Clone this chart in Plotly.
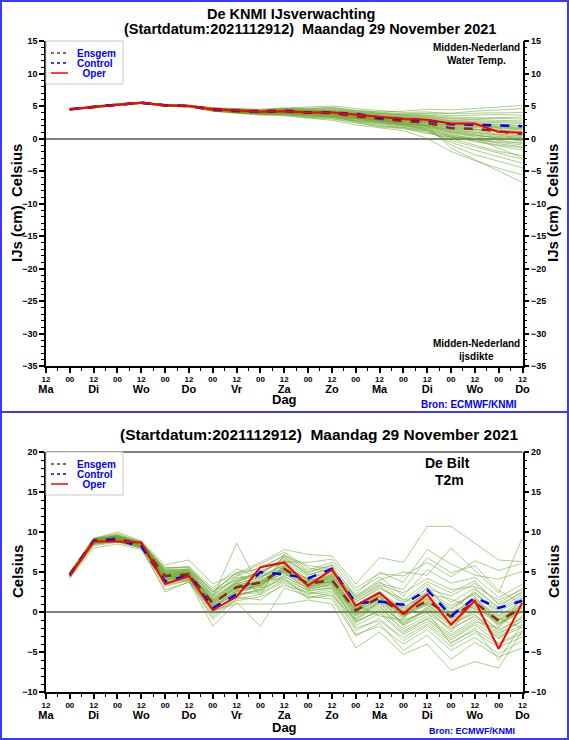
import plotly.graph_objects as go

W, H = 569, 740

# forecast hours after start (start = Monday 12 UTC)
hours = [12, 24, 36, 48, 60, 72, 84, 96, 108, 120, 132, 144, 156, 168, 180, 192, 204, 216, 228, 240]

tick_hours = list(range(0, 241, 12))
tick_days = ["Ma", "Di", "Wo", "Do", "Vr", "Za", "Zo", "Ma", "Di", "Wo", "Do"]

# ---- top panel: Midden-Nederland water temperature ----
wt_oper = [4.5, 4.9, 5.2, 5.5, 5.1, 5.0, 4.5, 4.3, 4.1, 4.2, 4.0, 4.0, 3.7, 3.3, 3.0, 2.9, 2.3, 2.3, 1.0, 0.9]
wt_control = [4.5, 4.9, 5.2, 5.5, 5.1, 5.0, 4.5, 4.3, 4.1, 4.2, 4.0, 4.0, 3.8, 3.2, 3.0, 2.8, 2.2, 2.1, 1.9, 1.9]
wt_ensgem = [4.5, 4.9, 5.2, 5.5, 5.1, 5.0, 4.4, 4.2, 4.2, 4.3, 4.0, 3.9, 3.4, 3.0, 2.7, 2.4, 1.6, 1.5, 1.1, 0.7]

wt_members = [
    [4.5, 4.9, 5.3, 5.5, 5.1, 5.0, 4.6, 4.5, 4.4, 4.6, 4.6, 4.8, 4.3, 4.1, 4.2, 4.5, 4.4, 4.6, 4.8, 5.1],
    [4.4, 4.8, 5.2, 5.4, 5.0, 4.9, 4.3, 4.0, 3.8, 3.7, 3.4, 3.3, 2.7, 2.2, 1.8, 1.2, 0.2, -0.5, -1.2, -1.8],
    [4.5, 4.9, 5.2, 5.5, 5.2, 5.1, 4.5, 4.3, 4.2, 4.3, 4.1, 4.0, 3.6, 3.2, 2.9, 2.6, 1.9, 1.7, 1.3, 1.0],
    [4.5, 4.9, 5.1, 5.4, 5.0, 4.9, 4.4, 4.1, 3.9, 4.0, 3.8, 3.6, 3.0, 2.6, 2.2, 1.5, -1.0, -2.5, -3.5, -4.5],
    [4.5, 5.0, 5.3, 5.6, 5.2, 5.1, 4.7, 4.6, 4.5, 4.7, 4.8, 5.0, 4.6, 4.3, 4.0, 4.1, 3.8, 3.9, 4.0, 4.0],
    [4.4, 4.8, 5.2, 5.4, 5.0, 4.9, 4.3, 4.1, 3.9, 4.0, 3.7, 3.5, 3.1, 2.8, 2.4, 2.0, 1.0, 0.6, 0.1, -0.4],
    [4.5, 4.9, 5.2, 5.5, 5.1, 5.0, 4.5, 4.2, 4.1, 4.2, 4.0, 3.9, 3.5, 3.0, 2.7, 2.3, 1.5, 1.2, 0.7, 0.5],
    [4.5, 4.9, 5.2, 5.5, 5.1, 5.0, 4.4, 4.2, 4.0, 4.1, 3.9, 3.8, 3.3, 2.9, 2.5, 2.0, -1.5, -3.2, -5.0, -6.8],
    [4.5, 4.9, 5.3, 5.5, 5.2, 5.0, 4.6, 4.4, 4.3, 4.5, 4.3, 4.3, 3.9, 3.6, 3.4, 3.3, 2.8, 2.7, 2.6, 2.5],
    [4.4, 4.8, 5.1, 5.4, 5.0, 4.9, 4.3, 4.0, 3.7, 3.6, 3.2, 3.0, 2.4, 1.8, 1.5, 0.9, 0.0, -1.0, -2.0, -2.6],
    [4.5, 4.9, 5.2, 5.5, 5.1, 5.0, 4.5, 4.3, 4.1, 4.3, 4.2, 4.1, 3.7, 3.4, 3.1, 2.9, 2.4, 2.2, 1.8, 1.6],
    [4.5, 4.9, 5.2, 5.5, 5.1, 5.0, 4.4, 4.2, 4.0, 4.0, 3.8, 3.7, 3.2, 2.7, 2.3, 1.8, 0.8, 0.3, -0.3, -0.8],
    [4.5, 5.0, 5.3, 5.6, 5.2, 5.1, 4.6, 4.5, 4.3, 4.4, 4.4, 4.5, 4.1, 3.8, 3.6, 3.6, 3.3, 3.2, 3.1, 3.0],
    [4.4, 4.8, 5.1, 5.4, 5.0, 4.9, 4.2, 3.9, 3.6, 3.5, 3.1, 2.8, 2.1, 1.6, 1.2, 0.0, -2.0, -3.4, -4.6, -5.6],
    [4.5, 4.9, 5.2, 5.5, 5.1, 5.0, 4.5, 4.3, 4.2, 4.2, 4.0, 4.0, 3.6, 3.1, 2.8, 2.5, 1.8, 1.5, 1.0, 0.8],
    [4.5, 4.9, 5.2, 5.5, 5.1, 5.0, 4.5, 4.2, 4.0, 4.1, 3.9, 3.8, 3.4, 3.0, 2.6, 2.2, 1.3, 0.9, 0.4, 0.1],
    [4.5, 4.9, 5.3, 5.6, 5.2, 5.1, 4.7, 4.5, 4.4, 4.6, 4.5, 4.6, 4.2, 3.9, 3.7, 3.8, 3.5, 3.6, 3.7, 3.6],
    [4.4, 4.8, 5.2, 5.4, 5.0, 4.9, 4.3, 4.0, 3.8, 3.8, 3.5, 3.4, 2.8, 2.4, 2.0, 1.6, 0.5, 0.0, -0.8, -1.3],
    [4.5, 4.9, 5.2, 5.5, 5.1, 5.0, 4.5, 4.3, 4.1, 4.2, 4.1, 4.1, 3.8, 3.5, 3.2, 3.0, 2.5, 2.3, 2.0, 1.9],
    [4.5, 4.9, 5.2, 5.5, 5.1, 5.0, 4.4, 4.1, 3.9, 3.9, 3.7, 3.6, 3.1, 2.6, 2.2, 1.7, 0.6, 0.0, -1.5, -3.0],
    [4.5, 4.9, 5.2, 5.5, 5.2, 5.0, 4.6, 4.4, 4.2, 4.4, 4.2, 4.2, 3.8, 3.4, 3.2, 3.1, 2.6, 2.4, 2.2, 2.0],
    [4.4, 4.8, 5.1, 5.4, 5.0, 4.9, 4.3, 4.1, 3.9, 3.9, 3.6, 3.4, 2.9, 2.5, 2.1, 1.4, 0.4, -0.2, -0.6, -1.0],
    [4.5, 4.9, 5.2, 5.5, 5.1, 5.0, 4.5, 4.3, 4.1, 4.2, 4.0, 3.9, 3.5, 3.1, 2.8, 2.6, 2.0, 1.8, 1.5, 1.3],
    [4.5, 4.9, 5.2, 5.5, 5.1, 5.0, 4.4, 4.2, 4.1, 4.1, 3.9, 3.8, 3.4, 2.9, 2.6, 2.1, 1.2, 0.7, 0.3, 0.0],
    [4.5, 5.0, 5.3, 5.6, 5.2, 5.1, 4.6, 4.4, 4.3, 4.5, 4.3, 4.4, 4.0, 3.7, 3.5, 3.4, 3.0, 2.9, 2.8, 2.7],
    [4.4, 4.8, 5.2, 5.4, 5.0, 4.9, 4.3, 4.0, 3.8, 3.8, 3.5, 3.3, 2.6, 2.0, 1.7, 1.1, -0.3, -1.3, -2.3, -3.2],
    [4.5, 4.9, 5.2, 5.5, 5.1, 5.0, 4.5, 4.3, 4.1, 4.2, 4.0, 4.0, 3.6, 3.2, 2.9, 2.7, 2.1, 1.9, 1.6, 1.4],
    [4.5, 4.9, 5.2, 5.5, 5.1, 5.0, 4.5, 4.2, 4.0, 4.1, 3.9, 3.7, 3.3, 2.8, 2.4, 1.9, 1.1, 0.5, 0.0, -0.3],
    [4.5, 4.9, 5.3, 5.5, 5.2, 5.1, 4.6, 4.4, 4.3, 4.4, 4.3, 4.3, 4.0, 3.8, 3.6, 3.5, 3.1, 3.0, 3.2, 3.3],
    [4.4, 4.8, 5.1, 5.4, 5.0, 4.9, 4.2, 3.9, 3.7, 3.7, 3.3, 3.1, 2.5, 1.9, 1.6, 0.8, 0.2, 0.0, -0.5, -0.6],
    [4.5, 4.9, 5.2, 5.5, 5.1, 5.0, 4.5, 4.3, 4.1, 4.3, 4.1, 4.1, 3.7, 3.3, 3.0, 2.8, 2.3, 2.0, 1.7, 1.5],
    [4.5, 4.9, 5.2, 5.5, 5.1, 5.0, 4.4, 4.2, 4.0, 4.0, 3.8, 3.6, 3.2, 2.7, 2.3, 1.9, 0.9, 0.4, 0.2, 0.3],
    [4.5, 4.9, 5.2, 5.5, 5.1, 5.0, 4.5, 4.3, 4.2, 4.3, 4.1, 4.1, 3.7, 3.3, 3.1, 2.9, 2.2, 2.1, 1.9, 1.7],
    [4.5, 5.0, 5.3, 5.6, 5.2, 5.1, 4.7, 4.6, 4.4, 4.6, 4.6, 4.7, 4.3, 4.0, 3.8, 3.9, 3.9, 4.2, 4.4, 4.6],
    [4.4, 4.8, 5.1, 5.4, 5.0, 4.9, 4.3, 4.0, 3.8, 3.9, 3.6, 3.5, 3.0, 2.5, 2.0, 1.3, -0.6, -1.8, -2.8, -3.8],
    [4.5, 4.9, 5.2, 5.5, 5.1, 5.0, 4.5, 4.2, 4.1, 4.1, 3.9, 3.9, 3.5, 3.0, 2.7, 2.4, 1.6, 1.3, 1.1, 0.9],
    [4.5, 4.9, 5.2, 5.5, 5.1, 5.0, 4.4, 4.1, 4.0, 4.0, 3.8, 3.7, 3.2, 2.8, 2.5, 2.0, 1.4, 1.0, 0.6, 0.4],
    [4.5, 4.9, 5.2, 5.5, 5.2, 5.0, 4.6, 4.3, 4.2, 4.3, 4.2, 4.2, 3.9, 3.5, 3.3, 3.2, 2.7, 2.6, 2.4, 2.3],
    [4.4, 4.8, 5.2, 5.4, 5.0, 4.9, 4.3, 4.1, 3.8, 3.8, 3.4, 3.2, 2.7, 2.3, 1.9, 1.3, 0.3, -0.4, -1.0, -1.4],
    [4.5, 4.9, 5.2, 5.5, 5.1, 5.0, 4.5, 4.3, 4.1, 4.2, 4.0, 4.0, 3.6, 3.1, 2.8, 2.5, 1.7, 1.4, 1.2, 1.1],
]

# ---- bottom panel: De Bilt T2m ----
t2m_oper = [4.6, 8.8, 8.8, 8.7, 3.5, 4.5, 0.25, 1.9, 5.6, 6.2, 3.3, 5.3, 0.8, 2.4, -0.2, 2.2, -1.6, 1.4, -4.6, 1.2]
t2m_control = [4.6, 8.9, 9.0, 8.2, 3.8, 4.6, 0.5, 2.2, 5.0, 4.7, 4.2, 5.4, 1.1, 1.3, 0.9, 2.8, -0.5, 1.8, 0.5, 1.4]
t2m_ensgem = [4.7, 8.9, 9.2, 8.4, 4.5, 4.7, 1.1, 3.1, 3.7, 5.4, 3.5, 4.0, 0.2, 1.8, -0.2, 1.4, -0.6, 1.2, -1.1, 0.5]

t2m_members = [
    [4.8, 9.1, 9.4, 8.6, 5.2, 5.1, 2.0, 4.2, 4.6, 6.8, 4.6, 5.6, 1.2, 3.1, 1.0, 3.5, 1.2, 3.0, 0.4, 2.2],
    [4.5, 8.6, 9.0, 8.2, 3.9, 4.3, 0.3, 2.1, 2.8, 4.5, 2.6, 3.1, -1.2, 0.2, -2.1, -0.5, -2.8, -0.9, -3.0, -1.6],
    [4.9, 9.0, 9.6, 8.5, 4.8, 4.9, 1.5, 3.8, 5.2, 6.1, 3.0, 4.8, 0.9, 2.6, -0.8, 2.1, 0.3, 2.5, -0.4, 1.4],
    [4.6, 8.8, 9.1, 8.3, 4.2, 4.6, 0.8, 2.6, 3.2, 5.8, 4.1, 3.6, -0.5, 1.0, -1.5, 0.5, -1.8, 0.1, -2.2, -0.8],
    [4.7, 9.2, 9.8, 8.7, 5.6, 5.5, 2.4, 5.0, 2.1, 7.3, 5.2, 6.2, 2.6, 4.4, 2.0, 5.3, 3.6, 4.3, 1.8, 3.5],
    [4.4, 8.3, 8.7, 8.0, 3.2, 4.0, -0.6, 1.7, 3.9, 4.2, 1.8, 2.4, -2.3, -0.8, -3.6, -1.7, -4.3, -2.6, -4.4, -3.1],
    [4.8, 8.9, 9.3, 8.4, 4.6, 4.8, 1.2, 3.3, 4.1, 5.2, 3.7, 4.3, 0.5, 2.2, 0.4, 1.8, -0.1, 1.5, -0.7, 0.9],
    [4.6, 9.0, 9.2, 8.5, 4.4, 4.5, 1.0, 2.9, 3.4, 5.5, 3.3, 3.8, 0.0, 1.5, -0.5, 1.0, -1.1, 0.8, -1.5, 0.2],
    [4.9, 9.1, 9.5, 8.8, 5.0, 5.2, 1.8, 8.6, 3.0, 6.5, 4.4, 5.1, 1.8, 3.6, 2.8, 6.8, 4.9, 5.8, 2.7, 1.0],
    [4.3, 8.5, 8.8, 8.1, 2.5, 3.8, -1.8, 1.2, -1.8, 3.0, 2.0, 1.6, -3.0, -1.4, -4.8, -2.9, -5.9, -3.8, -5.6, -4.5],
    [4.7, 8.7, 9.0, 8.3, 4.1, 4.4, 0.6, 2.4, 3.6, 4.8, 2.9, 3.3, -0.9, 0.6, -1.2, 0.2, -2.2, -0.4, -2.6, -1.2],
    [4.8, 9.0, 9.4, 8.6, 4.9, 5.0, 1.4, 3.5, 4.4, 5.9, 3.9, 4.6, 0.7, 2.4, 0.1, 2.6, 0.8, 2.2, 0.0, 1.7],
    [5.0, 9.2, 10.0, 8.9, 5.9, 6.5, 3.5, 4.8, 6.2, 7.8, 7.2, 7.0, 3.5, 6.8, 6.2, 10.7, 10.7, 8.6, 6.5, 6.3],
    [4.2, 8.0, 8.5, 7.8, 2.8, 3.7, 0.2, 1.0, 1.0, 1.0, 1.5, 1.0, -4.5, -2.5, -5.3, -4.0, -7.3, -6.2, -7.0, -2.3],
    [4.6, 8.9, 9.1, 8.4, 4.3, 4.7, 1.1, 3.0, 3.8, 5.3, 3.4, 4.1, 0.3, 1.9, -0.3, 1.3, -0.5, 1.1, -1.0, 0.6],
    [4.7, 9.1, 9.3, 8.2, 4.7, 4.9, 1.6, 3.6, 2.7, 6.0, 3.1, 3.9, -0.3, 1.2, -0.9, 3.2, -0.2, 2.8, 0.6, 2.6],
    [4.5, 8.8, 9.0, 8.5, 4.0, 4.2, 0.5, 2.7, 4.8, 5.0, 3.8, 4.5, 1.3, 2.9, 1.6, 0.8, -1.4, -0.2, -3.4, -0.4],
    [4.8, 8.7, 9.2, 8.6, 5.3, 5.3, 2.2, 4.5, 5.6, 7.0, 5.8, 5.4, 2.2, 5.0, 3.7, 7.8, 6.0, 4.6, 4.1, 5.1],
    [4.6, 9.0, 9.4, 8.3, 3.6, 4.4, 0.0, 2.2, 2.4, 4.0, 2.3, 2.9, -1.7, -0.2, -2.8, -1.2, -3.5, -1.6, -3.9, -2.4],
    [4.7, 8.9, 9.1, 8.4, 4.5, 4.6, 0.9, 3.2, 3.5, 5.6, 3.6, 4.2, 0.1, 1.7, -0.1, 1.6, -0.8, 1.4, -1.3, 0.3],
    [4.9, 9.2, 9.5, 8.7, 5.1, 5.4, 2.6, 4.0, 4.9, 6.6, 4.9, 5.8, 0.6, 2.0, -1.8, 0.4, -2.5, 2.0, -1.9, 1.8],
    [4.4, 8.4, 8.9, 8.0, 3.5, 4.1, -0.3, 1.9, 1.5, 3.6, 1.7, 2.1, -1.0, 1.4, 0.6, 2.3, 1.6, 0.4, -0.8, -2.0],
    [4.8, 9.0, 9.3, 8.5, 4.8, 5.0, 1.3, 3.4, 3.9, 5.7, 3.5, 4.4, 0.4, 2.0, -0.4, 1.1, -0.3, 1.7, -0.9, 0.8],
    [4.6, 8.8, 9.2, 8.3, 4.3, 4.5, 0.7, 2.8, 3.3, 5.1, 3.2, 3.7, -0.2, 1.3, -0.6, 0.9, -1.3, 0.6, -1.6, 0.0],
    [4.7, 9.1, 9.6, 8.6, 5.4, 5.6, 3.0, 5.4, 4.2, 6.3, 6.2, 6.6, 3.0, 4.8, 4.5, 6.2, 4.4, 6.4, 5.2, 6.1],
    [4.5, 8.6, 8.9, 8.1, 3.8, 4.0, 0.1, 1.4, 1.9, 3.3, 2.5, 2.0, -2.8, -1.8, -4.0, -2.2, -4.8, -3.2, -5.2, -3.6],
    [4.8, 8.9, 9.3, 8.4, 4.6, 4.8, 1.2, 3.1, 3.7, 5.4, 3.6, 4.0, 0.2, 1.9, -0.2, 1.5, -0.6, 1.3, -1.1, 0.5],
    [4.6, 9.0, 9.2, 8.5, 4.4, 4.9, 1.7, 3.9, 4.5, 5.0, 2.8, 3.5, -0.7, 0.8, -2.4, -0.8, -3.0, -1.2, -2.0, 1.2],
    [4.7, 8.8, 9.1, 8.2, 4.2, 4.3, 0.4, 2.5, 3.1, 4.6, 4.3, 4.9, 1.5, 3.3, 1.2, 2.9, 2.0, 3.6, 1.1, 3.0],
    [4.9, 9.1, 9.4, 8.7, 5.0, 5.1, 1.9, 3.7, 5.0, 6.4, 4.0, 4.7, 1.0, -0.5, -1.0, 0.0, -4.0, -2.0, -6.0, -1.5],
    [4.5, 8.7, 9.0, 8.2, 4.0, 4.4, 0.6, 2.3, 2.6, 4.4, 3.0, 3.4, -1.4, 0.4, -1.6, -0.2, -2.0, -0.6, -2.8, -1.0],
    [4.8, 9.0, 9.3, 8.6, 4.7, 5.0, 1.5, 3.6, 4.3, 5.9, 3.9, 4.5, 0.8, 2.5, 0.5, 2.4, 0.5, 2.4, 0.2, 1.9],
    [4.6, 8.9, 9.2, 8.4, 4.4, 4.6, 1.0, 3.0, 3.6, 5.2, 3.4, 3.9, 0.0, 1.6, -0.4, 1.2, -0.9, 0.9, -1.4, 0.1],
    [4.7, 9.0, 9.4, 8.5, 4.9, 5.2, 2.8, 4.6, 6.0, 7.5, 5.5, 5.0, 2.0, 4.0, 5.0, 4.6, 8.0, 5.2, 2.4, 9.3],
    [4.4, 8.5, 8.8, 8.0, 3.4, 3.9, -0.9, 1.6, 2.2, 3.8, 2.2, 2.6, -2.0, -1.1, -3.2, -1.5, -3.8, -2.3, -4.0, -2.7],
    [4.8, 9.1, 9.5, 8.7, 5.2, 5.3, 2.1, 4.3, 4.7, 6.9, 4.7, 5.3, 1.6, 3.4, 2.4, 4.2, 2.8, 3.2, 1.5, 2.8],
    [4.6, 8.8, 9.1, 8.3, 4.1, 4.5, 0.8, 2.6, 3.4, 4.9, 3.1, 3.6, -0.4, 1.1, -1.4, 0.6, -1.6, 0.3, -2.4, -0.6],
    [4.7, 9.0, 9.3, 8.4, 4.6, 4.7, 1.3, 3.2, 3.8, 5.5, 3.7, 4.2, 0.3, 2.1, 0.2, 1.7, -0.4, 1.6, -0.5, 1.1],
    [4.5, 8.6, 9.0, 8.2, 3.7, 4.2, 0.2, 2.0, 2.9, 4.1, 2.7, 3.0, -1.1, 0.0, -2.6, -0.9, -3.3, -1.4, -3.2, -1.9],
    [4.9, 9.2, 9.7, 8.8, 5.5, 5.7, 2.5, 4.9, 5.4, 7.1, 5.0, 5.9, 1.9, 3.8, 1.4, 3.8, 2.4, 3.9, 0.9, 2.4],
]

GREEN = "rgba(105,165,45,0.6)"
ENS_COL = "#8b2a1a"
CTL_COL = "#0000ff"
OPER_COL = "#ff0000"
BORDER = "#3a3aff"
FONT = "Liberation Sans, Arial, sans-serif"


def px(x):
    return x / W


def py(y):
    return 1 - y / H


# tick labels: "12 + day" at noon, "00" at midnight
ticktext = []
for i, h in enumerate(tick_hours):
    if i % 2 == 0:
        ticktext.append("12<br><span style='font-size:11px'>" + tick_days[i // 2] + "</span>")
    else:
        ticktext.append("00")

fig = go.Figure()


def add_panel(members, ensgem, control, oper, xa, ya, ya_r):
    for m in members:
        fig.add_trace(go.Scatter(x=hours, y=m, mode="lines", xaxis=xa, yaxis=ya,
                                 line=dict(color=GREEN, width=0.9),
                                 showlegend=False, hoverinfo="skip"))
    fig.add_trace(go.Scatter(x=hours, y=ensgem, mode="lines", xaxis=xa, yaxis=ya, name="Ensgem",
                             line=dict(color=ENS_COL, width=2.5, dash="dash"), showlegend=False))
    fig.add_trace(go.Scatter(x=hours, y=control, mode="lines", xaxis=xa, yaxis=ya, name="Control",
                             line=dict(color=CTL_COL, width=2.5, dash="dash"), showlegend=False))
    fig.add_trace(go.Scatter(x=hours, y=oper, mode="lines", xaxis=xa, yaxis=ya, name="Oper",
                             line=dict(color=OPER_COL, width=2), showlegend=False))
    # empty trace so the mirrored right axis is drawn
    fig.add_trace(go.Scatter(x=[None], y=[None], xaxis=xa, yaxis=ya_r, showlegend=False, hoverinfo="skip"))


add_panel(wt_members, wt_ensgem, wt_control, wt_oper, "x", "y", "y3")
add_panel(t2m_members, t2m_ensgem, t2m_control, t2m_oper, "x2", "y2", "y4")

xdom = [px(46), px(522.5)]
top_dom = [py(366), py(41)]
bot_dom = [py(692), py(452)]

xaxis_common = dict(
    domain=xdom, range=[0, 240], tickmode="array", tickvals=tick_hours, ticktext=ticktext,
    ticks="outside", ticklen=5, tickwidth=1.5, tickcolor="black", automargin=False,
    showline=True, linecolor="black", linewidth=1.5, showgrid=False, zeroline=False,
    tickfont=dict(family=FONT, size=8, color="black", weight="bold"),
    minor=dict(tickmode="linear", tick0=0, dtick=6, ticks="outside", ticklen=3,
               tickwidth=1, tickcolor="black", showgrid=False),
)


def yaxis_common(rng, dom, side):
    return dict(
        domain=dom, range=rng, tickmode="linear", tick0=0, dtick=5, side=side,
        ticks="outside", ticklen=5, tickwidth=1.5, tickcolor="black", automargin=False,
        showline=True, linecolor="black", linewidth=1.5, showgrid=False,
        tickfont=dict(family=FONT, size=9, color="black", weight="bold"),
        minor=dict(tickmode="linear", tick0=0, dtick=1, ticks="outside", ticklen=3,
                   tickwidth=1, tickcolor="black", showgrid=False),
    )


ya = yaxis_common([-35, 15], top_dom, "left")
ya.update(anchor="x", zeroline=True, zerolinecolor="#808080", zerolinewidth=1.5)
ya3 = yaxis_common([-35, 15], top_dom, "right")
ya3.update(anchor="x", overlaying="y", zeroline=False)
yb = yaxis_common([-10, 20], bot_dom, "left")
yb.update(anchor="x2", zeroline=True, zerolinecolor="#808080", zerolinewidth=1.5)
yb4 = yaxis_common([-10, 20], bot_dom, "right")
yb4.update(anchor="x2", overlaying="y2", zeroline=False)

xa = dict(xaxis_common, anchor="y")
xb = dict(xaxis_common, anchor="y2")

shapes = [
    # page border and separator
    dict(type="rect", xref="paper", yref="paper", x0=px(1), x1=px(568), y0=py(739), y1=py(1),
         line=dict(color=BORDER, width=2)),
    dict(type="line", xref="paper", yref="paper", x0=0, x1=1, y0=py(412), y1=py(412),
         line=dict(color=BORDER, width=2)),
    # top frame of bottom panel
    dict(type="line", xref="paper", yref="paper", x0=xdom[0], x1=xdom[1], y0=bot_dom[1], y1=bot_dom[1],
         line=dict(color="#555555", width=1.5)),
]

annotations = []


def text(x, y, s, size, color="black", xanchor="center", textangle=0):
    annotations.append(dict(x=px(x), y=py(y), xref="paper", yref="paper", text=s, showarrow=False,
                            xanchor=xanchor, yanchor="middle", textangle=textangle,
                            font=dict(family=FONT, size=size, color=color, weight="bold")))


def legend_box(top):
    shapes.append(dict(type="rect", xref="paper", yref="paper", x0=px(46), x1=px(123),
                       y0=py(top + 43), y1=py(top), fillcolor="white",
                       line=dict(color="#c8c8c8", width=1), layer="above"))
    entries = [("Ensgem", ENS_COL, "dot"), ("Control", CTL_COL, "dot"), ("\u00a0\u00a0Oper", OPER_COL, "solid")]
    for i, (lab, col, dash) in enumerate(entries):
        yy = top + 12 + 10 * i
        shapes.append(dict(type="line", xref="paper", yref="paper", x0=px(51), x1=px(68),
                           y0=py(yy), y1=py(yy), line=dict(color=col, width=1.5, dash=dash), layer="above"))
        text(75, yy, lab, 10, color="#0000ff", xanchor="left")


legend_box(41)
legend_box(452)

NB = "\u00a0"
title2 = "(Startdatum:2021112912)" + NB + NB + "Maandag 29 November 2021"

# top panel texts
text(291, 14, "De KNMI IJsverwachting", 14.5)
text(310, 29, title2, 14.5)
text(476, 47, "Midden-Nederland", 10)
text(476, 60, "Water Temp.", 10)
text(476, 343, "Midden-Nederland", 10)
text(476, 356, "ijsdikte", 10)
text(284, 399, "Dag", 13)
text(519, 405, "Bron: ECMWF/KNMI", 10, color="#0000ff", xanchor="right")
text(17, 203, "IJs (cm)" + NB + NB + "Celsius", 15, textangle=-90)
text(553, 203, "IJs (cm)" + NB + NB + "Celsius", 15, textangle=-90)

# bottom panel texts
text(319, 434, title2, 15.5)
text(447, 463, "De Bilt", 14)
text(449, 480, "T2m", 14)
text(284, 727, "Dag", 13)
text(517, 731, "Bron: ECMWF/KNMI", 9, color="#0000ff", xanchor="right")
text(17, 572, "Celsius", 15, textangle=-90)
text(553, 572, "Celsius", 15, textangle=-90)

fig.update_layout(
    template="none",
    width=W, height=H, margin=dict(l=0, r=0, t=0, b=0, autoexpand=False),
    paper_bgcolor="white", plot_bgcolor="white",
    font=dict(family=FONT),
    xaxis=xa, xaxis2=xb, yaxis=ya, yaxis2=yb, yaxis3=ya3, yaxis4=yb4,
    shapes=shapes, annotations=annotations, showlegend=False,
)

# page has a default body margin; drop it so the figure sits at the window corner
fig.write_html("out.html", config={"displayModeBar": False},
               post_script="document.body.style.margin='0';document.body.style.overflow='hidden';")
